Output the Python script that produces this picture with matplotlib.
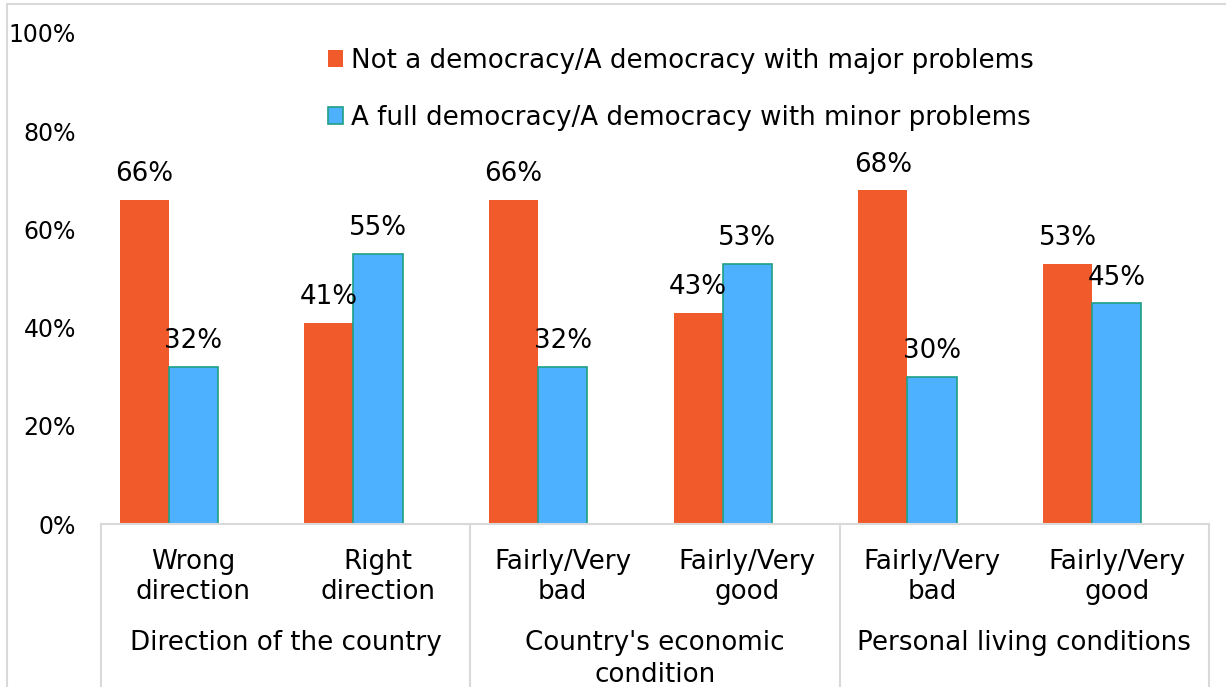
import matplotlib.pyplot as plt
import numpy as np
from matplotlib.patches import Rectangle

# Data
categories = ["Wrong\ndirection", "Right\ndirection",
              "Fairly/Very\nbad", "Fairly/Very\ngood",
              "Fairly/Very\nbad", "Fairly/Very\ngood"]
groups = ["Direction of the country", "Country's economic\ncondition", "Personal living conditions"]
not_democracy = [66, 41, 66, 43, 68, 53]
full_democracy = [32, 55, 32, 53, 30, 45]
series_names = ["Not a democracy/A democracy with major problems",
                "A full democracy/A democracy with minor problems"]

plt.rcParams["font.family"] = ["DejaVu Sans"]
FS = 18.8

red = "#F15A2B"
blue = "#4DB1FF"
blue_edge = "#1FA085"
grey = "#D9D9D9"

fig = plt.figure(figsize=(12.26, 6.87), dpi=100)
ax = fig.add_axes([101 / 1226, 163 / 687, 1108 / 1226, 491 / 687])

x = np.arange(len(categories))
width = 0.266
# Excel-style layout: the blue bar sits on the category centre
r1 = ax.bar(x - width, not_democracy, width, color=red, label=series_names[0])
r2 = ax.bar(x, full_democracy, width, color=blue, edgecolor=blue_edge, linewidth=1.2,
            label=series_names[1])

for rects in (r1, r2):
    ax.bar_label(rects, labels=[f"{v:.0f}%" for v in rects.datavalues], padding=9, fontsize=FS)

ax.set_xlim(-0.5, len(categories) - 0.5)
ax.set_ylim(0, 100)
ax.set_yticks([0, 20, 40, 60, 80, 100])
ax.set_yticklabels([f"{t}%" for t in range(0, 101, 20)], fontsize=17)
ax.tick_params(axis="y", length=0, pad=18)
ax.set_xticks([])

for s in ["left", "right", "top"]:
    ax.spines[s].set_visible(False)
ax.spines["bottom"].set_color(grey)
ax.spines["bottom"].set_linewidth(1.5)

# two-level category axis
tr = ax.get_xaxis_transform()
for xi, lab in zip(x, categories):
    ax.text(xi, -0.108, lab, transform=tr, ha="center", va="center", fontsize=FS,
            linespacing=1.2)
for gi, g in enumerate(groups):
    ax.text(2 * gi + 0.5, -0.216, g, transform=tr, ha="center", va="top", fontsize=FS,
            linespacing=1.3)
for sep in [-0.5, 1.5, 3.5, 5.5]:
    ax.plot([sep, sep], [0, -0.5], transform=tr, color=grey, lw=1.5, clip_on=False)

ax.legend(loc="upper left", bbox_to_anchor=(304 / 1226, 1 - 24 / 687),
          bbox_transform=fig.transFigure, frameon=False, fontsize=FS,
          handlelength=0.6, handleheight=0.6, handletextpad=0.3, labelspacing=1.2)

# outer chart border
fig.patches.append(Rectangle((7 / 1226, -0.1), 1.5, 1.1 - 4 / 687, transform=fig.transFigure,
                             fill=False, edgecolor=grey, lw=1.5))

fig.savefig("out.png", dpi=100)
